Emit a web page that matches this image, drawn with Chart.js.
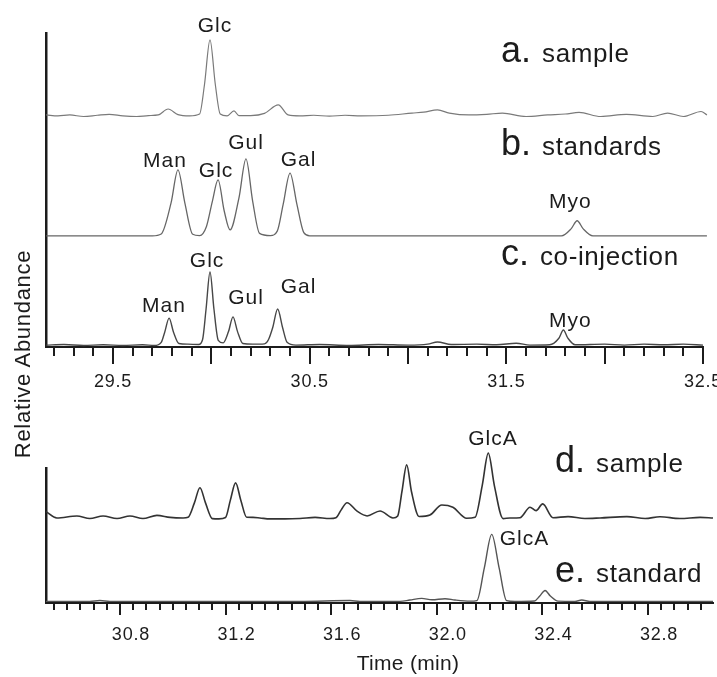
<!DOCTYPE html>
<html>
<head>
<meta charset="utf-8">
<script src="https://cdn.jsdelivr.net/npm/chart.js@4.4.0/dist/chart.umd.min.js"></script>
<style>
  body { margin: 0; background: #fff; }
  #page { position: relative; width: 717px; height: 677px; overflow: hidden;
          font-family: "Liberation Sans", Arial, sans-serif; color: #1c1c1c; }
  canvas { position: absolute; left: 0; }
  #topChart { top: 0; }
  #bottomChart { top: 400px; }
  .trace { position: absolute; font-size: 36px; line-height: 36px; white-space: nowrap; }
  .trace span { font-size: 26px; letter-spacing: 0.6px; margin-left: 11px; }
  #yTitle { position: absolute; left: -107px; top: 341px; width: 260px; height: 26px;
            line-height: 26px; text-align: center; font-size: 22px; letter-spacing: 0.7px;
            transform: rotate(-90deg); }
  #xTitle { position: absolute; left: 308px; top: 652px; width: 200px; line-height: 21px;
            text-align: center; font-size: 21px; letter-spacing: 0.3px; }
</style>
</head>
<body>
<div id="page">
  <canvas id="topChart" width="717" height="400"></canvas>
  <canvas id="bottomChart" width="717" height="277"></canvas>
  <div class="trace" style="left:501px; top:32px;">a.<span>sample</span></div>
  <div class="trace" style="left:501px; top:125px;">b.<span>standards</span></div>
  <div class="trace" style="left:501px; top:235px;">c.<span>co-injection</span></div>
  <div class="trace" style="left:555px; top:442px;">d.<span>sample</span></div>
  <div class="trace" style="left:555px; top:552px;">e.<span>standard</span></div>
  <div id="yTitle">Relative Abundance</div>
  <div id="xTitle">Time (min)</div>
</div>
<script>
// ---- top panel: [time (min), abundance above the trace baseline] ----
var sampleA = [[29.16, 0.3], [29.22, 0.0], [29.28, 0.3], [29.35, -0.2], [29.42, 0.2], [29.48, 0.5],
    [29.55, 0.0], [29.62, -0.2], [29.68, 0.1], [29.73, 0.3], [29.78, 2.2], [29.83, 0.4], [29.89, 0.0],
    [29.94, 0.6], [29.965, 10], [29.993, 24.2], [30.02, 10], [30.045, 0.6], [30.08, 0.0], [30.115, 1.6],
    [30.14, 0.1], [30.2, 0.1], [30.27, 0.8], [30.34, 3.5], [30.39, 0.3], [30.45, 0.0], [30.52, 0.2],
    [30.6, -0.1], [30.68, 0.2], [30.76, 0.0], [30.9, 0.2], [31.02, 0.9], [31.08, 1.2], [31.15, 1.9],
    [31.21, 0.9], [31.31, 0.3], [31.4, 0.5], [31.48, 0.9], [31.6, -0.2], [31.71, 0.3], [31.8, 0.6],
    [31.87, 1.1], [31.98, -0.2], [32.11, 0.5], [32.245, -0.2], [32.32, 0.9], [32.4, -0.2], [32.49, 1.4],
    [32.52, 0.3]];

var standardsB = [[29.16, 0], [29.70, 0], [29.745, 0.6], [29.795, 10.5], [29.83, 21], [29.865, 10.5],
    [29.905, 0.5], [29.94, 0.1], [29.975, 3], [30.005, 11], [30.034, 17.8], [30.065, 8], [30.095, 1.9],
    [30.14, 12], [30.176, 24.5], [30.21, 11], [30.245, 0.8], [30.30, 0.1], [30.335, 1.5], [30.365, 10],
    [30.40, 20], [30.435, 10], [30.47, 1], [30.50, 0], [31.78, 0], [31.83, 2.3], [31.86, 4.8],
    [31.89, 2.3], [31.94, 0], [32.52, 0]];

var coInjectionC = [[29.16, 0.3], [29.25, 0.5], [29.35, 0.2], [29.45, 0.4], [29.55, 0.2], [29.65, 0.4],
    [29.71, 0.2], [29.745, 1.2], [29.763, 4.5], [29.785, 8.9], [29.807, 4.5], [29.835, 0.8], [29.88, 0.6],
    [29.935, 0.5], [29.955, 2], [29.973, 11.8], [29.993, 23.6], [30.013, 11.8], [30.035, 1.8], [30.06, 1.0],
    [30.087, 4.6], [30.11, 9.3], [30.133, 4.6], [30.16, 0.8], [30.21, 0.6], [30.27, 0.7], [30.29, 2],
    [30.312, 5.9], [30.337, 11.8], [30.362, 5.9], [30.385, 1.2], [30.43, 0.3], [30.55, 0.5], [30.7, 0.2],
    [30.85, 0.5], [31.0, 0.3], [31.1, 0.6], [31.15, 1.3], [31.22, 0.5], [31.35, 0.6], [31.45, 0.4],
    [31.55, 0.9], [31.62, 0.3], [31.72, 0.4], [31.767, 2.5], [31.79, 5.1], [31.813, 2.5], [31.85, 0.4],
    [32.0, 0.6], [32.1, 0.3], [32.2, 0.6], [32.3, 0.4], [32.4, 0.6], [32.5, 0.3]];

// ---- bottom panel ----
var sampleD = [[30.52, 4.7], [30.561, 0], [30.637, 1.5], [30.686, -0.4], [30.736, 1.5], [30.789, -0.4],
    [30.838, 1.5], [30.887, -0.4], [30.94, 1.9], [30.99, 0.4], [31.039, 0], [31.058, 0.5], [31.082, 11.2],
    [31.103, 22.4], [31.124, 11.2], [31.15, -0.5], [31.175, -0.7], [31.2, 0.3], [31.218, 13], [31.238, 26],
    [31.258, 13], [31.28, 0.5], [31.304, 0.4], [31.33, 0], [31.368, -0.7], [31.425, -0.7], [31.482, -0.4],
    [31.539, 0.4], [31.595, -0.4], [31.618, 0.2], [31.638, 6], [31.66, 11.3], [31.698, 5], [31.736, 1.5],
    [31.785, 5.2], [31.834, 0], [31.852, 1.5], [31.868, 19.6], [31.886, 39.3], [31.904, 19.6], [31.933, 1.1],
    [31.974, 2.2], [32.019, 9.6], [32.061, 7.9], [32.113, -0.2], [32.145, 0.5], [32.172, 24], [32.195, 48],
    [32.218, 24], [32.251, -0.5], [32.277, 0], [32.315, 0.2], [32.353, 7.9], [32.376, 5.4], [32.401, 10.4],
    [32.44, 0.2], [32.497, 1], [32.561, -0.4], [32.618, 0], [32.72, 1], [32.789, -0.4], [32.845, 0.9],
    [32.921, -0.4], [32.997, 0.4], [33.046, 0]];

var standardE = [[30.52, 0], [30.686, 0], [30.724, 0.6], [30.762, 0], [31.482, 0], [31.671, 0.6],
    [31.709, 0], [31.861, 0], [31.898, 1], [31.943, 2.2], [31.982, 1.2], [32.031, 2], [32.069, 1],
    [32.126, 0.2], [32.152, 0.6], [32.18, 24.8], [32.208, 49.6], [32.236, 24.8], [32.264, 0.6],
    [32.296, 0], [32.37, 0.3], [32.39, 4], [32.41, 8.1], [32.43, 4], [32.459, 0.2], [32.523, 0],
    [32.549, 1], [32.58, 0], [33.046, 0]];

// tick labels
var topTickLabels = ['29.5', '30.5', '31.5', '32.5'];
var bottomTickLabels = ['30.8', '31.2', '31.6', '32.0', '32.4', '32.8'];

// peak names, their time and the level of the text baseline
var topPeakNames = ['Glc', 'Man', 'Glc', 'Gul', 'Gal', 'Myo', 'Man', 'Glc', 'Gul', 'Gal', 'Myo'];
var topPeakTimes = [30.013, 29.759, 30.019, 30.171, 30.438, 31.82, 29.754, 29.973, 30.171, 30.438, 31.82];
var topPeakLevels = [100.3, 57.3, 54.1, 63.1, 57.6, 44.3, 11.2, 25.6, 13.7, 17.1, 6.5];

var bottomPeakNames = ['GlcA', 'GlcA'];
var bottomPeakTimes = [32.209, 32.328];
var bottomPeakLevels = [117, 43];

var fontFamily = '"Liberation Sans", Arial, sans-serif';

function shifted(points, offset) {
    return points.map(function (p) {
        return { x: p[0], y: p[1] + offset };
    });
}

function trace(points, offset, color, width) {
    return {
        data: shifted(points, offset),
        borderColor: color,
        borderWidth: width,
        pointRadius: 0,
        cubicInterpolationMode: 'monotone',
        clip: false,
        fill: false
    };
}

function matchLabel(value, labels) {
    var s = Number(value).toFixed(1);
    return (labels.indexOf(s) >= 0 && Math.abs(value - Number(s)) < 1e-6) ? s : '';
}

// tick marks drawn on the library's x scale (long / short)
function tickMarks(minorLen, majorLen, isMajor) {
    return {
        id: 'tickMarks',
        afterDraw: function (chart) {
            var scale = chart.scales.x;
            var ctx = chart.ctx;
            var y0 = scale.top;
            ctx.save();
            ctx.strokeStyle = '#1c1c1c';
            ctx.lineWidth = 2;
            scale.ticks.forEach(function (t) {
                var px = Math.round(scale.getPixelForValue(t.value));
                var len = isMajor(t.value) ? majorLen : minorLen;
                ctx.beginPath();
                ctx.moveTo(px, y0);
                ctx.lineTo(px, y0 + len);
                ctx.stroke();
            });
            ctx.restore();
        }
    };
}

function peakLabels(names, times, levels) {
    return {
        id: 'peakLabels',
        afterDatasetsDraw: function (chart) {
            var ctx = chart.ctx;
            ctx.save();
            ctx.font = '21px ' + fontFamily;
            ctx.letterSpacing = '1px';
            ctx.fillStyle = '#1c1c1c';
            ctx.textAlign = 'center';
            ctx.textBaseline = 'alphabetic';
            names.forEach(function (name, i) {
                var px = chart.scales.x.getPixelForValue(times[i]);
                var py = chart.scales.y.getPixelForValue(levels[i]);
                ctx.fillText(name, px + 1, py);
            });
            ctx.restore();
        }
    };
}

var tickSpacing = {
    id: 'tickSpacing',
    beforeDraw: function (chart) {
        chart.ctx.letterSpacing = '0.8px';
    }
};

function panelOptions(cfg) {
    return {
        responsive: false,
        animation: false,
        devicePixelRatio: 1,
        layout: { padding: cfg.padding },
        plugins: { legend: { display: false }, tooltip: { enabled: false } },
        scales: {
            x: {
                type: 'linear',
                min: cfg.min,
                max: cfg.max,
                grid: { display: false },
                border: { display: true, color: '#1c1c1c', width: 2 },
                ticks: {
                    stepSize: cfg.step,
                    includeBounds: false,
                    autoSkip: false,
                    maxRotation: 0,
                    maxTicksLimit: 1000,
                    padding: cfg.labelPad,
                    labelOffset: cfg.labelOffset,
                    color: '#1c1c1c',
                    font: { family: fontFamily, size: 18 },
                    callback: function (value) { return matchLabel(value, cfg.labels); }
                },
                afterFit: function (scale) {
                    scale.height = cfg.axisHeight;
                    scale.paddingLeft = 0;
                    scale.paddingRight = 0;
                }
            },
            y: {
                min: 0,
                max: 100,
                grid: { display: false },
                border: { display: true, color: '#1c1c1c', width: 2.5 },
                ticks: { display: false },
                afterFit: function (scale) {
                    scale.width = 0;
                }
            }
        }
    };
}

new Chart(document.getElementById('topChart'), {
    type: 'line',
    data: {
        datasets: [
            trace(sampleA, 73.6, '#7a7a7a', 1.2),
            trace(standardsB, 35.4, '#666666', 1.3),
            trace(coInjectionC, 0.3, '#474747', 1.4)
        ]
    },
    options: panelOptions({
        padding: { left: 46, right: 14, top: 33, bottom: 0 },
        min: 29.159, max: 32.5, step: 0.1,
        labels: topTickLabels, labelPad: 16, labelOffset: 0, axisHeight: 53
    }),
    plugins: [tickSpacing, tickMarks(9, 17, function (v) {
        return Math.abs(v * 2 - Math.round(v * 2)) < 1e-6;
    }), peakLabels(topPeakNames, topPeakTimes, topPeakLevels)]
});

new Chart(document.getElementById('bottomChart'), {
    type: 'line',
    data: {
        datasets: [
            trace(sampleD, 63, '#333333', 1.6),
            trace(standardE, 1.2, '#555555', 1.4)
        ]
    },
    options: panelOptions({
        padding: { left: 46, right: 4, top: 68, bottom: 0 },
        min: 30.52, max: 33.046, step: 0.05,
        labels: bottomTickLabels, labelPad: 13, labelOffset: 11, axisHeight: 74
    }),
    plugins: [tickSpacing, tickMarks(7, 12, function (v) {
        return matchLabel(v, bottomTickLabels) !== '';
    }), peakLabels(bottomPeakNames, bottomPeakTimes, bottomPeakLevels)]
});
</script>
</body>
</html>
